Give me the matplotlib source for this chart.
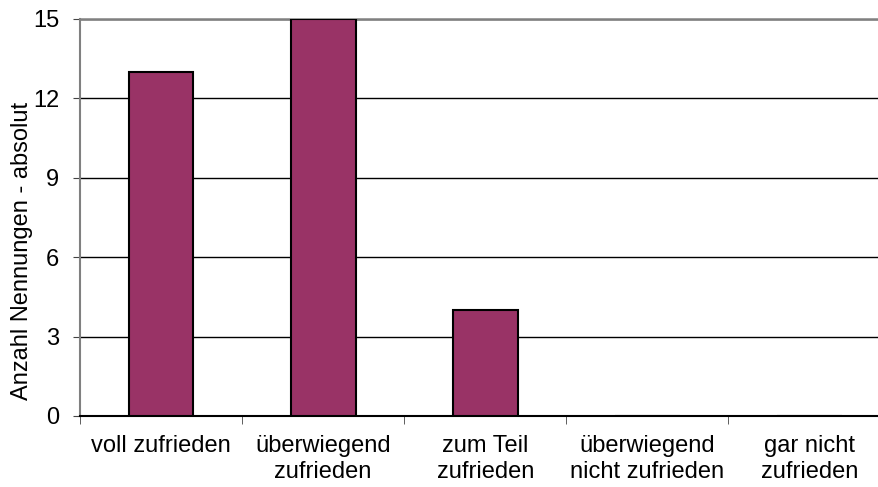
import matplotlib
matplotlib.use("Agg")
import matplotlib.pyplot as plt

categories = ["voll zufrieden", "überwiegend\nzufrieden", "zum Teil\nzufrieden",
              "überwiegend\nnicht zufrieden", "gar nicht\nzufrieden"]
values = [13, 15, 4, 0, 0]
y_ticks = [0, 3, 6, 9, 12, 15]

plt.rcParams["font.family"] = ["Liberation Sans", "DejaVu Sans"]

fig = plt.figure(figsize=(8.79, 4.87), dpi=100)
ax = fig.add_axes([0.091, 0.146, 0.922, 0.815])

x = list(range(len(categories)))
ax.bar(x, values, width=0.4, color="#993366", edgecolor="black", linewidth=1.5, zorder=3)

ax.set_xlim(-0.5, len(categories) - 0.5)
ax.set_ylim(0, 15)
ax.set_yticks(y_ticks)
ax.yaxis.grid(True, color="black", linewidth=1)
ax.set_axisbelow(True)

ax.set_xticks(x)
ax.set_xticklabels(categories, fontsize=17, linespacing=1.2)
ax.set_xticks([i - 0.5 for i in range(len(categories) + 1)], minor=True)
ax.tick_params(axis="x", which="major", length=0, pad=14)
ax.tick_params(axis="x", which="minor", length=6, color="#444444")
ax.tick_params(axis="y", labelsize=17, length=5, color="#444444", pad=10)

ax.spines["right"].set_visible(False)
ax.spines["top"].set_color("#808080")
ax.spines["top"].set_linewidth(1.8)
ax.spines["left"].set_color("#808080")
ax.spines["left"].set_linewidth(1.5)
ax.spines["bottom"].set_color("black")
ax.spines["bottom"].set_linewidth(1.5)

ax.set_ylabel("Anzahl Nennungen - absolut", fontsize=17)
ax.yaxis.set_label_coords(-0.058, 0.415)

fig.savefig("out.png", dpi=100)
